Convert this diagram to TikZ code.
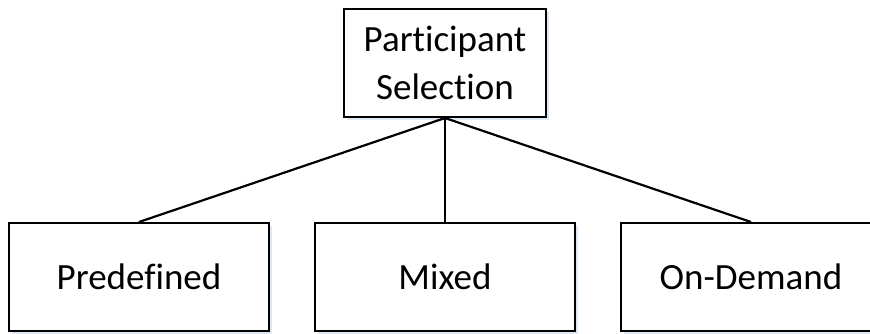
\documentclass[tikz,border=0pt]{standalone}
\usepackage{fontspec}
\setmainfont{Carlito}[Ligatures=NoCommon]
\usetikzlibrary{shadows}
\definecolor{shade}{RGB}{222,232,244}
\tikzset{
  box/.style={draw=black, line width=2pt, fill=white, align=center,
    font=\fontsize{37}{48}\selectfont,
    drop shadow={shadow xshift=2.5pt, shadow yshift=-2.5pt, fill=shade, opacity=1}},
  top box/.style={box, minimum width=202pt, minimum height=108pt},
  leaf box/.style={box, minimum width=260pt, minimum height=108pt},
  link/.style={draw=black, line width=2.2pt}
}
\begin{document}
\begin{tikzpicture}[x=1pt, y=-1pt]
  \path[use as bounding box, clip] (0,0) rectangle (870,333);
  % root category
  \node[top box] (sel) at (445,63) {Participant\\Selection};
  % three selection modes
  \node[leaf box] (pre) at (139,277) {Predefined};
  \node[leaf box] (mix) at (445,277) {Mixed};
  \node[leaf box] (ond) at (751,277) {On-Demand};
  % tree links
  \draw[link] (sel.south) -- (pre.north);
  \draw[link] (sel.south) -- (mix.north);
  \draw[link] (sel.south) -- (ond.north);
\end{tikzpicture}
\end{document}
